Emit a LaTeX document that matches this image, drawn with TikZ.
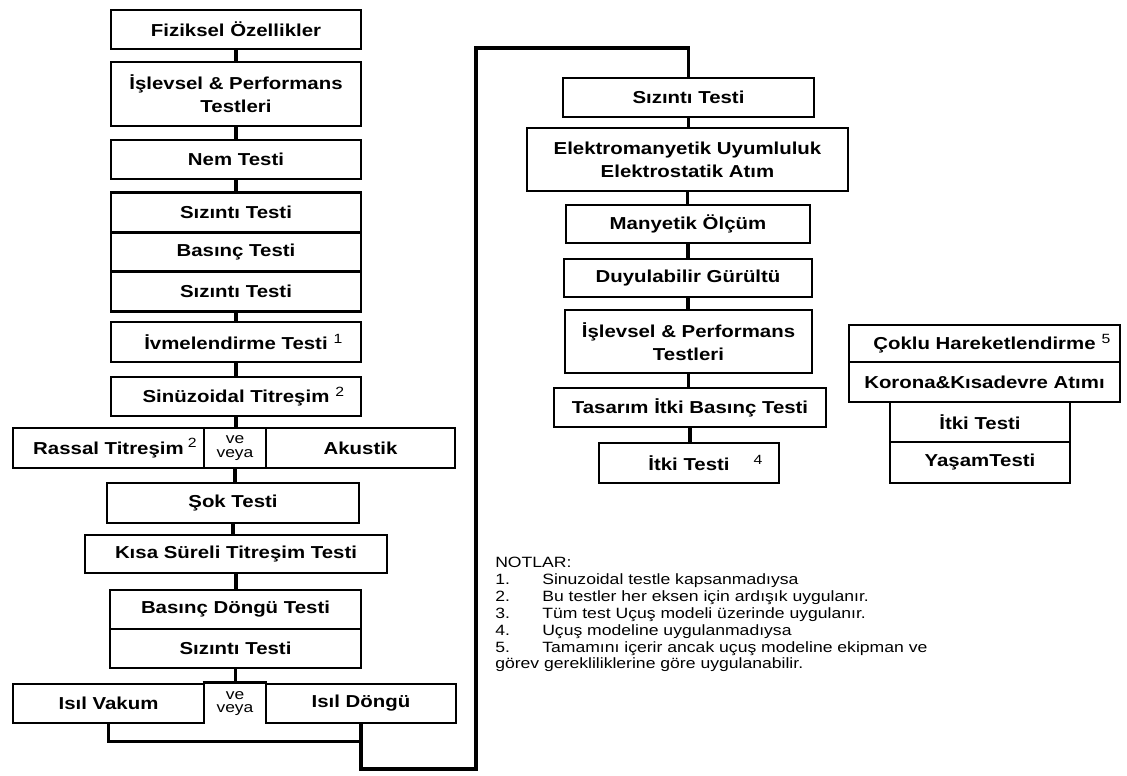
\documentclass[tikz,border=0pt]{standalone}
\usepackage{fontspec}
\setmainfont{Liberation Sans}[FakeStretch=1.18]
\usepackage{tikz}
\usetikzlibrary{calc}

\newcommand{\vefont}{\fontsize{10.5}{9.5}\selectfont}
\newcommand{\ust}[2][0.15cm]{\rlap{\hspace{#1}\mdseries\fontsize{9.5}{9.5}\selectfont\raisebox{0.9ex}{#2}}}

\tikzset{
  kutu/.style={draw, line width=1.8pt, inner sep=0pt, align=center,
    font=\bfseries\fontsize{12.3}{16.5}\selectfont},
  olcu/.style 2 args={minimum width=#1*0.025cm, minimum height=#2*0.025cm},
  hat/.style={line width=2.2pt}
}

\begin{document}
\begin{tikzpicture}[x=0.025cm, y=-0.025cm]
    \useasboundingbox (0,0) rectangle (1127,776);
    % sol sutun
    \node[kutu, olcu={250}{39}] (fiz) at (236,29.5) {Fiziksel Özellikler};
    \node[kutu, olcu={250}{64}] (isl1) at (236,94) {İşlevsel \& Performans\\Testleri};
    \node[kutu, olcu={250}{39}] (nem) at (236,159.5) {Nem Testi};
    \node[kutu, olcu={250}{39.5}] (siz1) at (236,212.5) {Sızıntı Testi};
    \node[kutu, olcu={250}{39.5}] (bas1) at (236,252) {Basınç Testi};
    \node[kutu, olcu={250}{39.5}] (siz2) at (236,291.5) {Sızıntı Testi};
    \node[kutu, olcu={250}{40}] (ivme) at (236,342) {İvmelendirme Testi\ust{1}};
    \node[kutu, olcu={250}{39}] (sinus) at (236,396.5) {Sinüzoidal Titreşim\ust{2}};
    \node[kutu, olcu={191}{40}] (rassal) at (108.5,448) {Rassal Titreşim\ust[0.1cm]{2}};
    \node[kutu, olcu={62}{40}, font=\vefont] (ve1) at (235,448) {ve\\veya};
    \node[kutu, olcu={189}{40}] (akustik) at (360.5,448) {Akustik};
    \node[kutu, olcu={252}{40}] (sok) at (233,503) {Şok Testi};
    \node[kutu, olcu={302}{38}] (kisa) at (236,554) {Kısa Süreli Titreşim Testi};
    \node[kutu, olcu={251}{39}] (basdon) at (235.5,609.5) {Basınç Döngü Testi};
    \node[kutu, olcu={251}{39}] (siz3) at (235.5,648.5) {Sızıntı Testi};
    \node[kutu, olcu={191}{39}] (vakum) at (108.5,703.5) {Isıl Vakum};
    \node[kutu, draw=none, olcu={62}{39}, font=\vefont] (ve2) at (235,703.5) {ve\\veya};
    \node[kutu, olcu={190}{39}] (dongu) at (361,703.5) {Isıl Döngü};
    \draw[hat] (ve2.north west) -- (ve2.north east);

    % sag sutun
    \node[kutu, olcu={251}{39}] (siz4) at (688.5,97.5) {Sızıntı Testi};
    \node[kutu, olcu={321}{63}] (elek) at (687.5,159.5) {Elektromanyetik Uyumluluk\\Elektrostatik Atım};
    \node[kutu, olcu={244}{38}] (many) at (688,224) {Manyetik Ölçüm};
    \node[kutu, olcu={248}{38}] (duy) at (688,278) {Duyulabilir Gürültü};
    \node[kutu, olcu={247}{63}] (isl2) at (688.5,341.5) {İşlevsel \& Performans\\Testleri};
    \node[kutu, olcu={272}{39}] (tas) at (690,407.5) {Tasarım İtki Basınç Testi};
    \node[kutu, olcu={180}{40}] (itki1) at (689,463) {İtki Testi\ust[0.6cm]{4}};

    % ayri grup
    \node[kutu, olcu={271}{37}] (coklu) at (984.5,343.5) {Çoklu Hareketlendirme\ust{5}};
    \node[kutu, olcu={271}{40}] (korona) at (984.5,382) {Korona\&Kısadevre Atımı};
    \node[kutu, olcu={180}{40}] (itki2) at (980,422) {İtki Testi};
    \node[kutu, olcu={180}{41}] (yasam) at (980,462.5) {YaşamTesti};

    % baglantilar
    \foreach \a/\b in {fiz/isl1, isl1/nem, nem/siz1, siz2/ivme, ivme/sinus, sinus/ve1,
        ve1/sok, sok/kisa, kisa/basdon, siz3/ve2, siz4/elek, elek/many, many/duy,
        duy/isl2, isl2/tas, tas/itki1}
        \draw[hat] (\a.south) -- (\a.south |- \b.north);
    \coordinate (kose1) at (476,769);
    \coordinate (kose2) at (476,48);
    \draw[hat] (vakum.south) -- ++(0,17) -| (dongu.south);
    \draw[hat] (dongu.south) |- (kose1) -- (kose2) -| (siz4.north);

    % notlar
    \node[anchor=north west, align=left, inner sep=0pt,
        font=\fontsize{10.6}{12}\selectfont] (notlar) at (495,557)
        {NOTLAR:\\
        \makebox[1.175cm][l]{1.}Sinuzoidal testle kapsanmadıysa\\
        \makebox[1.175cm][l]{2.}Bu testler her eksen için ardışık uygulanır.\\
        \makebox[1.175cm][l]{3.}Tüm test Uçuş modeli üzerinde uygulanır.\\
        \makebox[1.175cm][l]{4.}Uçuş modeline uygulanmadıysa\\
        \makebox[1.175cm][l]{5.}Tamamını içerir ancak uçuş modeline ekipman ve\\
        görev gerekliliklerine göre uygulanabilir.};
\end{tikzpicture}
\end{document}
